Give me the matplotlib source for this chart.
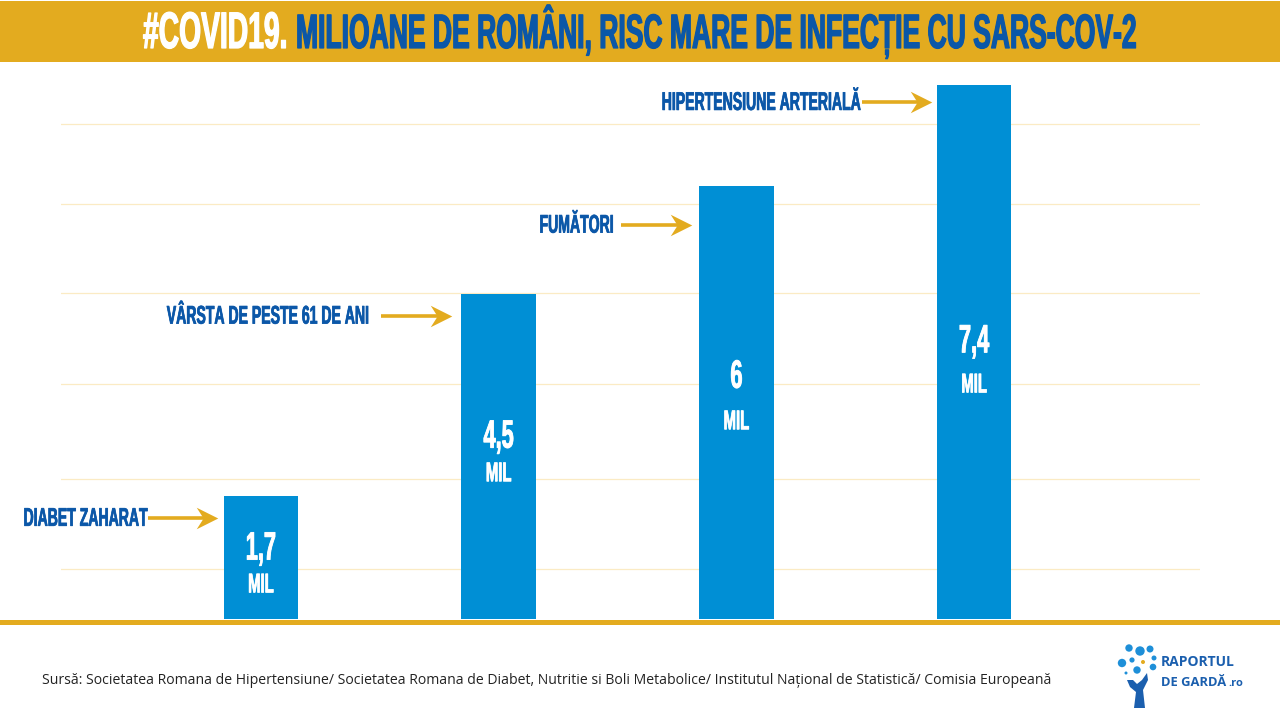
import matplotlib
matplotlib.use("Agg")
import matplotlib.pyplot as plt
from matplotlib.patches import Circle, Polygon, Rectangle
from matplotlib.path import Path
from matplotlib import font_manager as fm
from matplotlib import patheffects as pe
from fontTools.ttLib import TTFont

categories = ["DIABET ZAHARAT", "VÂRSTA DE PESTE 61 DE ANI", "FUMĂTORI", "HIPERTENSIUNE ARTERIALĂ"]
values = [1.7, 4.5, 6.0, 7.4]
value_labels = ["1,7", "4,5", "6", "7,4"]
arrow_levels = [1.40, 4.20, 5.46, 7.16]
grid_levels = [0.69, 1.94, 3.25, 4.51, 5.75, 6.86]
title_a = "#COVID19."
title_b = "MILIOANE DE ROMÂNI, RISC MARE DE INFECȚIE CU SARS-COV-2"
source = "Sursă: Societatea Romana de Hipertensiune/ Societatea Romana de Diabet, Nutritie si Boli Metabolice/ Institutul Național de Statistică/ Comisia Europeană"

GOLD = "#E3AB1F"
BLUE = "#0B57A8"
BAR = "#008FD5"
GRID = "#FBEBC4"
LOGO = "#1B5FAE"
SANS = ["Open Sans", "DejaVu Sans"]
W, H = 1280, 720


def make_condensed(sx, out):
    """Horizontally condensed copy of Liberation Sans Bold, used as an ordinary font."""
    src = fm.findfont(fm.FontProperties(family="Liberation Sans", weight="bold"))
    f = TTFont(src)
    glyf = f["glyf"]
    for name in f.getGlyphOrder():
        g = glyf[name]
        if g.isComposite():
            for c in g.components:
                c.x = int(round(c.x * sx))
        elif g.numberOfContours > 0:
            g.coordinates.scale((sx, 1))
            g.coordinates.toInt()
        g.removeHinting() if g.numberOfContours != 0 else None
    hmtx = f["hmtx"]
    for name, (adv, lsb) in list(hmtx.metrics.items()):
        hmtx.metrics[name] = (int(round(adv * sx)), int(round(lsb * sx)))
    for name in f.getGlyphOrder():
        glyf[name].recalcBounds(glyf)
    for tag in ["kern", "GPOS", "GSUB", "GDEF", "hdmx", "LTSH", "VDMX", "fpgm", "prep", "cvt ", "gasp"]:
        if tag in f:
            del f[tag]
    f.save(out)


COND = "cond.ttf"
make_condensed(0.55, COND)


def cond(size):
    return fm.FontProperties(fname=COND, size=size)


def bolder(color, w):
    return [pe.withStroke(linewidth=w, foreground=color)]


fig = plt.figure(figsize=(12.8, 7.2), dpi=100, facecolor="white")

# overlay in pixel coordinates for the page furniture
pg = fig.add_axes([0, 0, 1, 1], zorder=0)
pg.set_xlim(0, W)
pg.set_ylim(H, 0)
pg.axis("off")
pg.add_patch(Rectangle((0, 1), W, 61, color=GOLD, lw=0))
pg.add_patch(Rectangle((0, 620), W, 5, color=GOLD, lw=0))
pg.text(143, 48, title_a, color="white", fontproperties=cond(37), va="baseline", ha="left",
        path_effects=bolder("white", 0.9))
pg.text(296, 48, title_b, color=BLUE, fontproperties=cond(34.7), va="baseline", ha="left",
        path_effects=bolder(BLUE, 0.9))
pg.text(42, 680, source, color="#222222", fontsize=10.05, family=SANS, va="center", ha="left")

# logo
logo_dots = [(1129, 648, 3.7), (1140, 651, 4.7), (1150, 649, 3.5), (1122, 663, 4.2), (1132, 660, 2.6),
             (1154, 658, 2.5), (1153, 667, 3.3), (1137, 670, 3.7), (1126, 673, 1.5)]
for x, y, r in logo_dots:
    pg.add_patch(Circle((x, y), r, color="#1E8FD8", lw=0))
pg.add_patch(Circle((1143, 662), 2, color=GOLD, lw=0))
pg.add_patch(Polygon([(1127, 680), (1133, 680), (1137, 684), (1142, 680), (1147, 673), (1148, 680), (1143, 690),
                      (1145, 708), (1134, 708), (1136, 692), (1130, 687)], closed=True, color=LOGO, lw=0))
pg.text(1161, 662, "RAPORTUL", color=LOGO, fontsize=10, fontweight="bold", family=SANS, va="center")
pg.text(1161, 682, "DE GARDĂ", color=LOGO, fontsize=9.4, fontweight="bold", family=SANS, va="center")
pg.text(1228, 684, ".ro", color=LOGO, fontsize=8, fontweight="bold", family=SANS, va="center")

# chart axes: x 61..1200 px, baseline at y=619 px
PX = 237.7  # pixels per category step
ax = fig.add_axes([61 / W, 1 - 619 / H, (1200 - 61) / W, (619 - 62) / H], zorder=1)
ax.patch.set_alpha(0)
ax.set_xlim(-0.841, 3.95)
ax.set_ylim(0, 557 / 72.2)
for s in ax.spines.values():
    s.set_visible(False)
ax.set_xticks([])
ax.set_yticks([])
for g in grid_levels:
    ax.axhline(g, color=GRID, lw=0.9, zorder=1)

xs = list(range(len(values)))
bw = 0.3135
ax.bar(xs, values, width=bw, color=BAR, zorder=2)

# swept arrow head, tip to the right
HEAD = Path([(1, 0), (-1, 1), (-0.36, 0), (-1, -1), (1, 0)], closed=True)
tip_gap = [6, 10, 8, 5]
label_gap = [1, 14, 8, 3]
for x, cat, lvl, tg, lg in zip(xs, categories, arrow_levels, tip_gap, label_gap):
    left = x - bw / 2
    tip = left - tg / PX
    tail = tip - 70 / PX
    ax.plot([tail, tip - 12 / PX], [lvl, lvl], color=GOLD, lw=2.6, solid_capstyle="butt", zorder=3)
    ax.plot([tip - 10.5 / PX], [lvl], marker=HEAD, markersize=15.5, color=GOLD, mew=0, zorder=3)
    ax.text(tail - lg / PX, lvl - 0.012, cat, ha="right", va="center", color=BLUE, fontproperties=cond(18.4), zorder=3,
            path_effects=bolder(BLUE, 0.5))

# value labels inside the bars
lbl_y = [0.975, 2.525, 3.355, 3.845]
mil_y = [0.465, 2.005, 2.725, 3.235]
for x, vl, a, b in zip(xs, value_labels, lbl_y, mil_y):
    ax.text(x, a, vl, color="white", fontproperties=cond(28.5), ha="center", va="center", zorder=4,
            path_effects=bolder("white", 0.6))
    ax.text(x, b, "MIL", color="white", fontproperties=cond(19.5), ha="center", va="center", zorder=4,
            path_effects=bolder("white", 0.5))

fig.savefig("out.png", dpi=100)
